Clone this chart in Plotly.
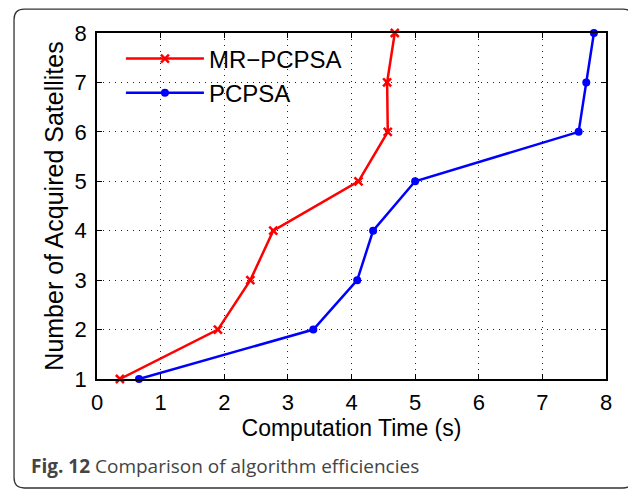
import plotly.graph_objects as go

satellites = [1, 2, 3, 4, 5, 6, 7, 8]
mr_pcpsa_time = [0.36, 1.90, 2.41, 2.77, 4.11, 4.57, 4.56, 4.68]
pcpsa_time = [0.66, 3.40, 4.09, 4.34, 5.00, 7.57, 7.69, 7.81]
x_ticks = [0, 1, 2, 3, 4, 5, 6, 7, 8]
y_ticks = [1, 2, 3, 4, 5, 6, 7, 8]

FONT = "Liberation Sans, Arial, sans-serif"

fig = go.Figure()
fig.add_trace(go.Scatter(
    x=mr_pcpsa_time, y=satellites, mode="lines+markers", name="MR\u2212PCPSA",
    line=dict(color="#ff0000", width=2.5),
    marker=dict(symbol="x-thin", size=8, line=dict(color="#ff0000", width=2.5), color="#ff0000"),
    cliponaxis=False,
))
fig.add_trace(go.Scatter(
    x=pcpsa_time, y=satellites, mode="lines+markers", name="PCPSA",
    line=dict(color="#0000ff", width=2.5),
    marker=dict(symbol="circle", size=8, color="#0000ff"),
    cliponaxis=False,
))

axis_common = dict(
    showline=True, linecolor="black", linewidth=1.5, mirror="allticks",
    ticks="inside", ticklen=5, tickcolor="black", tickwidth=1,
    showgrid=True, gridcolor="#222222", griddash="1px,5px", gridwidth=1,
    zeroline=False, tickfont=dict(family=FONT, size=22, color="black"),
)

fig.update_xaxes(
    range=[0, 8], tickvals=x_ticks, **axis_common, ticklabelstandoff=3,
    title=dict(text="Computation Time (s)", font=dict(family=FONT, size=23, color="black"), standoff=4),
)
fig.update_yaxes(
    range=[1, 8], tickvals=y_ticks, **axis_common, ticklabelstandoff=4,
    title=dict(text="Number of Acquired Satellites", font=dict(family=FONT, size=25, color="black"), standoff=4),
)

# rounded frame around the whole figure (paper coordinates)
x0, x1, y0, y1 = -0.163, 1.053, -0.315, 1.069
rx, ry = 0.02, 0.03
frame_path = (
    f"M {x0+rx},{y1} L {x1-rx},{y1} Q {x1},{y1} {x1},{y1-ry} "
    f"L {x1},{y0+ry} Q {x1},{y0} {x1-rx},{y0} "
    f"L {x0+rx},{y0} Q {x0},{y0} {x0},{y0+ry} "
    f"L {x0},{y1-ry} Q {x0},{y1} {x0+rx},{y1} Z"
)

fig.update_layout(
    width=628, height=482,
    margin=dict(l=89, r=30, t=25, b=111),
    paper_bgcolor="white", plot_bgcolor="white",
    showlegend=True,
    legend=dict(x=0.047, y=0.99, xanchor="left", yanchor="top",
                font=dict(family=FONT, size=24, color="black"),
                bgcolor="rgba(0,0,0,0)", tracegroupgap=0, itemwidth=78),
    shapes=[dict(
        type="path", xref="paper", yref="paper", path=frame_path,
        line=dict(color="#333333", width=1.3), layer="below",
    )],
    annotations=[dict(
        text="<b>Fig. 12</b> Comparison of algorithm efficiencies",
        xref="paper", yref="paper", x=-0.134, y=-0.251, xanchor="left", yanchor="middle",
        showarrow=False, font=dict(family="Open Sans, sans-serif", size=19, color="#444444"),
    )],
)

fig.write_html("out.html")
